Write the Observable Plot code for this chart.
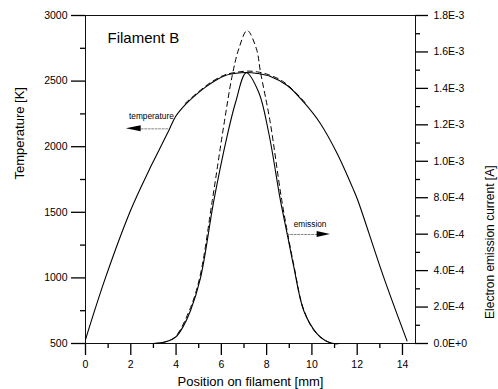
<!DOCTYPE html>
<html><head><meta charset="utf-8">
<script src="https://cdn.jsdelivr.net/npm/d3@7"></script>
<script src="https://cdn.jsdelivr.net/npm/@observablehq/plot@0.6"></script>
<style>
html,body{margin:0;padding:0;background:#fff;}
#chart svg{display:block;}
</style></head><body><div id="chart"></div>
<script>
// Temperature profile (solid), K
const posTemp = [0, 0.88, 1.99, 2.80, 3.24, 3.68, 3.98, 4.42, 4.86, 5.3, 5.74, 6.18, 6.65, 7.1, 7.6, 8.17, 8.91, 9.64, 10.38, 11.12, 11.85, 12.03, 13.18, 14.2];
const tempK   = [530, 1000, 1514, 1819, 1971, 2124, 2230, 2322, 2393, 2454, 2505, 2543, 2560, 2566, 2558, 2535, 2466, 2339, 2175, 1946, 1666, 1590, 1000, 520];
// Temperature fit (dashed), K
const posTempFit = [4.4, 5.0, 5.6, 6.2, 6.7, 7.15, 7.6, 8.1, 8.7, 9.3, 9.8];
const tempFit    = [2330, 2420, 2498, 2550, 2568, 2576, 2570, 2548, 2500, 2410, 2315];
// Emission current (solid), A
const posEmis = [3.0, 3.5, 3.98, 4.3, 4.64, 5.08, 5.67, 6.26, 6.63, 7.1, 7.65, 8.1, 8.61, 8.91, 9.2, 9.64, 10.23, 10.6, 10.97, 11.2];
const emis    = [0, 0.08e-4, 0.35e-4, 0.9e-4, 1.81e-4, 3.6e-4, 7.85e-4, 11.41e-4, 13.24e-4, 14.86e-4, 13.79e-4, 11.51e-4, 7.85e-4, 6.0e-4, 4.2e-4, 1.8e-4, 0.53e-4, 0.15e-4, 0, 0];
// Emission current fit (dashed), A
const posEmisFit = [3.0, 3.5, 3.95, 4.6, 5.05, 5.6, 6.1, 6.48, 6.77, 7.14, 7.55, 7.73, 8.15, 8.67, 9.2, 9.64, 10.2, 10.9, 11.2];
const emisFit    = [0, 0.08e-4, 0.35e-4, 1.85e-4, 3.65e-4, 7.85e-4, 11.9e-4, 14.7e-4, 16.17e-4, 17.18e-4, 16.17e-4, 14.89e-4, 12.2e-4, 7.85e-4, 4.3e-4, 1.85e-4, 0.55e-4, 0, 0];

// Ticks
const xMajor = [0, 2, 4, 6, 8, 10, 12, 14];
const xMinor = [1, 3, 5, 7, 9, 11, 13];
const tMajor = [500, 1000, 1500, 2000, 2500, 3000];
const tMinor = [750, 1250, 1750, 2250, 2750];
const eMajor = [0, 2e-4, 4e-4, 6e-4, 8e-4, 10e-4, 12e-4, 14e-4, 16e-4, 18e-4];
const eMinor = [1e-4, 3e-4, 5e-4, 7e-4, 9e-4, 11e-4, 13e-4, 15e-4, 17e-4];

// Annotations (data coordinates)
const annTemp = {label: "temperature", x: 2.91, y: 2230, tip: 1.80, base: 2.46, end: 3.67, ay: 2136, h: 23};
const annEmis = {label: "emission", x: 9.92, y: 1407, tip: 10.82, base: 10.23, end: 8.91, ay: 1331, h: 23};

const T0 = 500, T1 = 3000, E1 = 1.8e-3;
const toT = e => T0 + e / E1 * (T1 - T0);
const fromT = t => (t - T0) / (T1 - T0) * E1;
const fmtE = e => (Math.abs(e) < 1e-12 ? 0 : e).toExponential(1).toUpperCase();

const zip = (xs, ys, f = v => v) => xs.map((x, i) => ({x, y: f(ys[i])}));

function arrowMarks(a) {
  return [
    Plot.line([{x: a.base, y: a.ay}, {x: a.end, y: a.ay}], {x: "x", y: "y", stroke: "#666", strokeWidth: 0.8, strokeDasharray: "2,1.5"}),
    Plot.areaY([{x: a.tip, y1: a.ay, y2: a.ay}, {x: a.base, y1: a.ay - a.h, y2: a.ay + a.h}], {x: "x", y1: "y1", y2: "y2", fill: "#000"}),
    Plot.text([a], {x: "x", y: "y", text: "label", fontSize: 8.3, fill: "#000"})
  ];
}

const W = 498, H = 389, ML = 85, MR = 83, MT = 15, MB = 46;
const PW = W - ML - MR, PH = H - MT - MB;
const XMAX = 14.575;
const lab = {label: null, tickSize: 0};
const tk = {stroke: "#000", strokeWidth: 1.3};
// tick lengths expressed through the scales (px -> data units)
const kx = XMAX / PW, ky = (T1 - T0) / PH;

const chart = Plot.plot({
  width: W,
  height: H,
  marginLeft: ML,
  marginRight: MR,
  marginTop: MT,
  marginBottom: MB,
  style: {fontFamily: "'Liberation Sans', Arial, sans-serif", fontSize: "10.5px", background: "#fff", color: "#000", overflow: "visible"},
  x: {domain: [0, XMAX]},
  y: {domain: [T0, T1]},
  marks: [
    // tick labels
    Plot.axisX({...lab, ticks: xMajor, tickPadding: 17, tickFormat: "d"}),
    Plot.axisY({...lab, ticks: tMajor, tickPadding: 18, tickFormat: "d"}),
    Plot.axisY({...lab, anchor: "right", ticks: eMajor.map(toT), tickPadding: 18, tickFormat: t => fmtE(fromT(t))}),
    // tick marks (outward)
    Plot.ruleX(xMajor, {...tk, x: d => d, y1: T0, y2: T0 - 12 * ky}),
    Plot.ruleX(xMinor, {...tk, x: d => d, y1: T0, y2: T0 - 5 * ky}),
    Plot.ruleY(tMajor, {...tk, y: d => d, x1: 0, x2: -14 * kx}),
    Plot.ruleY(tMinor, {...tk, y: d => d, x1: 0, x2: -5 * kx}),
    Plot.ruleY(eMajor.map(toT), {...tk, y: d => d, x1: XMAX, x2: XMAX + 13 * kx}),
    Plot.ruleY(eMinor.map(toT), {...tk, y: d => d, x1: XMAX, x2: XMAX + 5 * kx}),
    Plot.frame({stroke: "#111", strokeWidth: 1}),
    // curves
    Plot.line(zip(posTemp, tempK), {x: "x", y: "y", curve: "catmull-rom", stroke: "#000", strokeWidth: 1.1}),
    Plot.line(zip(posTempFit, tempFit), {x: "x", y: "y", curve: "catmull-rom", stroke: "#000", strokeWidth: 1, strokeDasharray: "5,4"}),
    Plot.line(zip(posEmis, emis, toT), {x: "x", y: "y", curve: "catmull-rom", stroke: "#000", strokeWidth: 1.1}),
    Plot.line(zip(posEmisFit, emisFit, toT), {x: "x", y: "y", curve: "catmull-rom", stroke: "#000", strokeWidth: 1, strokeDasharray: "5,4"}),
    ...arrowMarks(annTemp),
    ...arrowMarks(annEmis),
    // titles
    Plot.text(["Filament B"], {text: d => d, frameAnchor: "top-left", lineAnchor: "middle", dx: 22, dy: 23, textAnchor: "start", fontSize: 15, fill: "#000"}),
    Plot.text(["Temperature [K]"], {text: d => d, frameAnchor: "left", lineAnchor: "middle", rotate: -90, dx: -66, fontSize: 13, fill: "#000"}),
    Plot.text(["Electron emission current [A]"], {text: d => d, frameAnchor: "right", lineAnchor: "middle", rotate: -90, dx: 75, dy: -14, fontSize: 12, fill: "#000"}),
    Plot.text(["Position on filament [mm]"], {text: d => d, frameAnchor: "bottom", lineAnchor: "middle", dy: 38.5, fontSize: 13, fill: "#000"})
  ]
});
document.getElementById("chart").append(chart);
</script></body></html>
